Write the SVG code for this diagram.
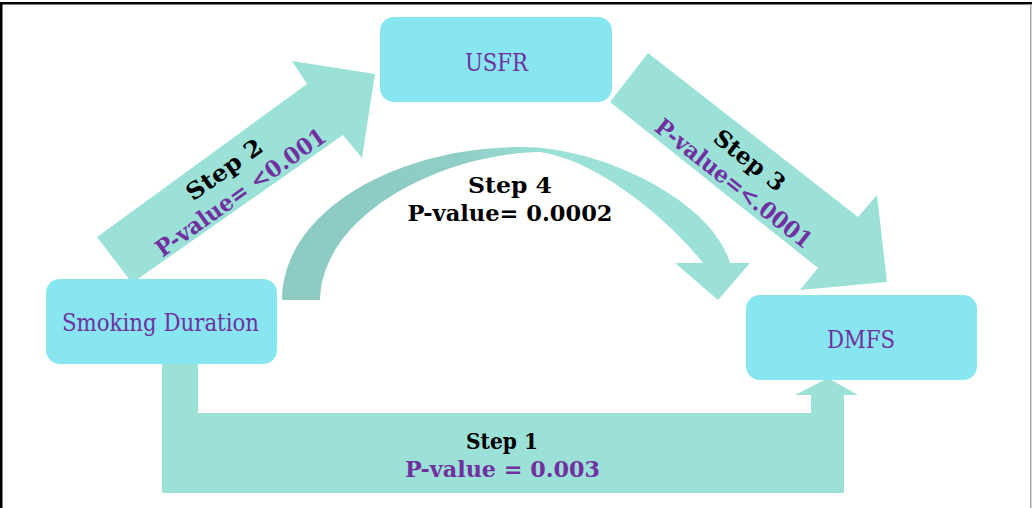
<svg xmlns="http://www.w3.org/2000/svg" width="1032" height="508" viewBox="0 0 1032 508">
  <style>
    .node { fill: #87E6EF; }
    .ntext { font-family: "DejaVu Serif", "Liberation Serif", serif; font-size: 25px; fill: #7030A0; text-anchor: middle; }
    .arrow { fill: #9BE1D8; }
    .step { font-family: "DejaVu Serif", "Liberation Serif", serif; font-size: 23px; font-weight: bold; fill: #000000; text-anchor: middle; }
    .pval { font-family: "DejaVu Serif", "Liberation Serif", serif; font-size: 23px; font-weight: bold; fill: #7030A0; text-anchor: middle; }
  </style>
  <defs>
    <linearGradient id="arcGrad" gradientUnits="userSpaceOnUse" x1="282" y1="0" x2="600" y2="0">
      <stop offset="0" stop-color="#8DCAC4"/>
      <stop offset="0.55" stop-color="#8FCDC7"/>
      <stop offset="0.85" stop-color="#9BE1D8"/>
      <stop offset="1" stop-color="#9BE1D8"/>
    </linearGradient>
  </defs>
  <rect width="1032" height="508" fill="#FFFFFF"/>
  <!-- frame -->
  <rect x="0" y="2" width="1032" height="2.5" fill="#000000"/>
  <rect x="0" y="2" width="2.5" height="506" fill="#000000"/>
  <rect x="1030" y="4" width="1.5" height="504" fill="#AAAAAA"/>

  <g id="connectors">
    <!-- Step 1: L-shaped arrow -->
    <polygon class="arrow" points="162,358 198,358 198,413 811,413 811,395 795,395 828,378 858,395 844,395 844,493 162,493"/>
    <!-- Step 2 -->
    <polygon class="arrow" points="97,237 307,84 292,61 375,74 362,158 343,135 132,283"/>
    <!-- Step 3 -->
    <polygon class="arrow" points="648,53 858,217 877,195 887,282 800,290 818,268 610,102"/>
    <!-- Step 4: curved arrow -->
    <path fill="url(#arcGrad)" d="M282,300 C282,215 390,147 523,147 C600,147 712,200 730,263 L750,263 L718,300 L675,263 L703,263 C678,230 605,162 540,152 C440,154 322,215 320,300 Z"/>
  </g>

  <g id="labels">
    <g transform="translate(114.5,260) rotate(-35.5)">
      <text class="step" x="142" y="-2" textLength="88" lengthAdjust="spacingAndGlyphs">Step 2</text>
      <text class="pval" x="142" y="26" textLength="203" lengthAdjust="spacingAndGlyphs">P-value= &lt;0.001</text>
    </g>
    <g transform="translate(629,77.5) rotate(38.4)">
      <text class="step" x="146" y="-2" textLength="84" lengthAdjust="spacingAndGlyphs">Step 3</text>
      <text class="pval" x="148" y="26" textLength="193" lengthAdjust="spacingAndGlyphs">P-value=&lt;.0001</text>
    </g>
    <text class="step" x="510" y="193" textLength="84" lengthAdjust="spacingAndGlyphs">Step 4</text>
    <text class="step" x="510" y="221" textLength="205" lengthAdjust="spacingAndGlyphs">P-value= 0.0002</text>
    <text class="step" x="502" y="449" textLength="72" lengthAdjust="spacingAndGlyphs">Step 1</text>
    <text class="pval" x="502.5" y="477" textLength="195" lengthAdjust="spacingAndGlyphs">P-value = 0.003</text>
  </g>

  <g id="node-usfr">
    <rect class="node" x="380" y="17" width="232" height="85" rx="14"/>
    <text class="ntext" x="496.5" y="71" textLength="63" lengthAdjust="spacingAndGlyphs">USFR</text>
  </g>
  <g id="node-smoking">
    <rect class="node" x="46" y="279" width="231" height="85" rx="14"/>
    <text class="ntext" x="160.5" y="331" textLength="197" lengthAdjust="spacingAndGlyphs">Smoking Duration</text>
  </g>
  <g id="node-dmfs">
    <rect class="node" x="746" y="295" width="231" height="85" rx="14"/>
    <text class="ntext" x="861" y="348" textLength="68" lengthAdjust="spacingAndGlyphs">DMFS</text>
  </g>
</svg>
